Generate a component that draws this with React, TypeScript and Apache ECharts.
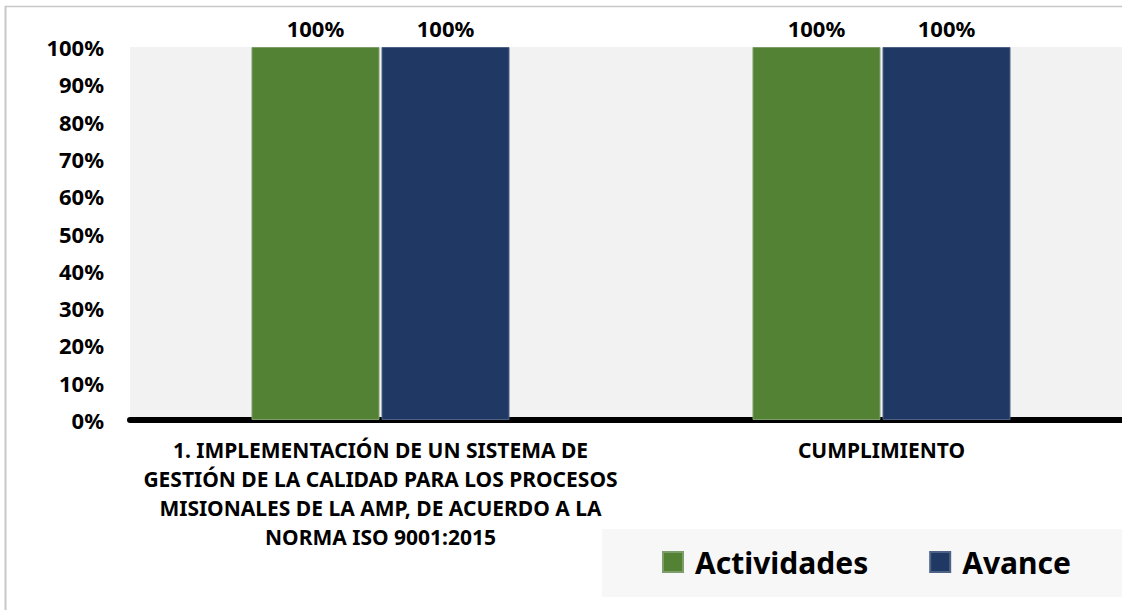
import React, { useEffect, useRef } from "react";
import * as echarts from "echarts";

const categories = [
  "1. IMPLEMENTACIÓN DE UN SISTEMA DE\nGESTIÓN DE LA CALIDAD PARA LOS PROCESOS\nMISIONALES DE LA AMP, DE ACUERDO A LA\nNORMA ISO 9001:2015",
  "CUMPLIMIENTO",
];
const seriesNames = ["Actividades", "Avance"];
const actividades = [1, 1];
const avance = [1, 1];
const yTicks = [0, 0.1, 0.2, 0.3, 0.4, 0.5, 0.6, 0.7, 0.8, 0.9, 1];

const FONT = "Noto Sans";

export default function App() {
  const ref = useRef<HTMLDivElement>(null);
  useEffect(() => {
    if (!ref.current) return;
    const chart = echarts.init(ref.current, undefined, { renderer: "svg" });
    const pct = (v: number) => `${Math.round(v * 100)}%`;
    chart.setOption({
      animation: false,
      backgroundColor: "#ffffff",
      textStyle: { fontFamily: FONT },
      graphic: [
        {
          type: "line",
          shape: { x1: 5, y1: 6.5, x2: 1122, y2: 6.5 },
          style: { stroke: "#c8c8c8", lineWidth: 1.5 },
          z: 100,
        },
        {
          type: "line",
          shape: { x1: 5.5, y1: 6, x2: 5.5, y2: 610 },
          style: { stroke: "#c8c8c8", lineWidth: 2 },
          z: 100,
        },
        {
          type: "rect",
          shape: { x: 602, y: 529, width: 520, height: 68 },
          style: { fill: "#f7f7f7" },
          z: -1,
        },
      ],
      grid: {
        left: 130,
        width: 1002,
        top: 47,
        bottom: 190,
        show: true,
        backgroundColor: "#f2f2f2",
        borderWidth: 0,
        containLabel: false,
        outerBoundsMode: "none",
      },
      legend: {
        data: seriesNames,
        left: 662,
        top: 544,
        padding: 0,
        icon: "rect",
        itemWidth: 20,
        itemHeight: 20,
        itemGap: 61,
        textStyle: {
          fontFamily: FONT,
          fontSize: 30,
          fontWeight: "bold",
          color: "#000000",
          lineHeight: 36,
          padding: [0, 0, 0, 7],
        },
      },
      xAxis: {
        type: "category",
        data: categories,
        axisLine: { show: true, lineStyle: { color: "#000000", width: 6 } },
        axisTick: { show: false },
        axisLabel: {
          interval: 0,
          margin: 15,
          fontFamily: FONT,
          fontSize: 21,
          fontWeight: "bold",
          color: "#000000",
          lineHeight: 29,
          align: "center",
        },
        splitLine: { show: false },
      },
      yAxis: {
        type: "value",
        min: 0,
        max: 1,
        interval: 0.1,
        axisLine: { show: false },
        axisTick: { show: false },
        splitLine: { show: false },
        axisLabel: {
          margin: 26,
          fontFamily: FONT,
          fontSize: 22,
          fontWeight: "bold",
          color: "#000000",
          formatter: (v: number) => (yTicks.some((t) => Math.abs(t - v) < 1e-6) ? pct(v) : ""),
        },
      },
      series: [
        {
          name: seriesNames[0],
          type: "bar",
          data: actividades,
          barGap: "1.6%",
          barCategoryGap: "48.5%",
          itemStyle: { color: "#548235", borderColor: "#7d9e6a", borderWidth: 1 },
          label: {
            show: true,
            position: "top",
            distance: 8,
            formatter: (p: any) => pct(p.value),
            fontFamily: FONT,
            fontSize: 22,
            fontWeight: "bold",
            color: "#000000",
          },
        },
        {
          name: seriesNames[1],
          type: "bar",
          data: avance,
          itemStyle: { color: "#203864", borderColor: "#4d6285", borderWidth: 1 },
          label: {
            show: true,
            position: "top",
            distance: 8,
            formatter: (p: any) => pct(p.value),
            fontFamily: FONT,
            fontSize: 22,
            fontWeight: "bold",
            color: "#000000",
          },
        },
      ],
    });
    return () => chart.dispose();
  }, []);
  return (
    <div
      ref={ref}
      style={{ position: "fixed", left: 0, top: 0, width: 1122, height: 610 }}
    />
  );
}
